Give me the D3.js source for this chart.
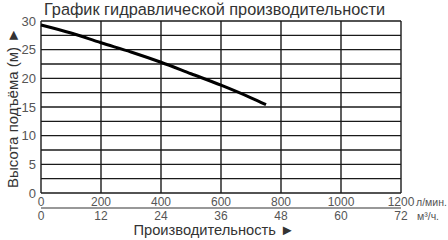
<!DOCTYPE html>
<html><head><meta charset="utf-8">
<script src="https://cdn.jsdelivr.net/npm/d3@7"></script>
<style>body{margin:0;background:#fff}svg{display:block}text{font-family:"Liberation Sans",Arial,sans-serif}</style>
</head><body><svg id="c" width="448" height="240"></svg>
<script>
const flowLmin = [0, 100, 200, 300, 400, 500, 600, 700, 750];
const headM = [29.3, 27.9, 26.2, 24.6, 22.8, 20.8, 18.8, 16.6, 15.4];
const xTicksLmin = [0, 200, 400, 600, 800, 1000, 1200];
const xTicksM3h = [0, 12, 24, 36, 48, 60, 72];
const yTicks = [0, 5, 10, 15, 20, 25, 30];
const yGrid = d3.range(0, 30.01, 2.5);

const svg = d3.select("#c");
const x = d3.scaleLinear().domain([0, 1200]).range([41, 401]);
const y = d3.scaleLinear().domain([0, 30]).range([193, 21]);
const gridColor = "#1a1a1a";

// grid
svg.append("g").selectAll("line").data(yGrid).join("line")
  .attr("x1", x(0)).attr("x2", x(1200)).attr("y1", d => y(d)).attr("y2", d => y(d))
  .attr("stroke", gridColor).attr("stroke-width", 1.4);
svg.append("g").selectAll("line").data(xTicksLmin).join("line")
  .attr("x1", d => x(d)).attr("x2", d => x(d)).attr("y1", y(0)).attr("y2", y(30))
  .attr("stroke", gridColor).attr("stroke-width", 1.4);

// curve
svg.append("path").datum(flowLmin.map((q, i) => [q, headM[i]]))
  .attr("d", d3.line().x(d => x(d[0])).y(d => y(d[1])).curve(d3.curveMonotoneX))
  .attr("fill", "none").attr("stroke", "#000").attr("stroke-width", 3);

// y tick labels
svg.append("g").selectAll("text").data(yTicks).join("text")
  .attr("x", 36).attr("y", d => y(d) + 4.5).attr("text-anchor", "end")
  .attr("font-size", 13).attr("fill", "#555").text(d => d);

// bottom tick labels row 1
svg.append("g").selectAll("text").data(xTicksLmin).join("text")
  .attr("x", d => x(d)).attr("y", 206).attr("text-anchor", "middle")
  .attr("font-size", 12).attr("fill", "#555").text(d => d);
// secondary axis line
svg.append("line").attr("x1", x(0)).attr("x2", x(1200)).attr("y1", 208).attr("y2", 208)
  .attr("stroke", "#333").attr("stroke-width", 1.2);
const x2 = d3.scaleLinear().domain([0, 72]).range([41, 401]);
svg.append("g").selectAll("text").data(xTicksM3h).join("text")
  .attr("x", d => x2(d)).attr("y", 219.5).attr("text-anchor", "middle")
  .attr("font-size", 12).attr("fill", "#555").text(d => d);

svg.append("text").attr("x", 416).attr("y", 206).attr("font-size", 10.5).attr("fill", "#555").text("л/мин.");
svg.append("text").attr("x", 417).attr("y", 219.5).attr("font-size", 10.5).attr("fill", "#555").text("м³/ч.");

// titles
svg.append("text").attr("x", 214.5).attr("y", 15).attr("text-anchor", "middle")
  .attr("font-size", 16.3).attr("fill", "#333").text("График гидравлической производительности");
svg.append("text").attr("x", 214).attr("y", 234.5).attr("text-anchor", "middle")
  .attr("font-size", 14.7).attr("fill", "#333").text("Производительность ►");
svg.append("text").attr("transform", "translate(17.5,108) rotate(-90)").attr("text-anchor", "middle")
  .attr("font-size", 15).attr("fill", "#333").text("Высота подъёма (м) ►");
</script></body></html>
